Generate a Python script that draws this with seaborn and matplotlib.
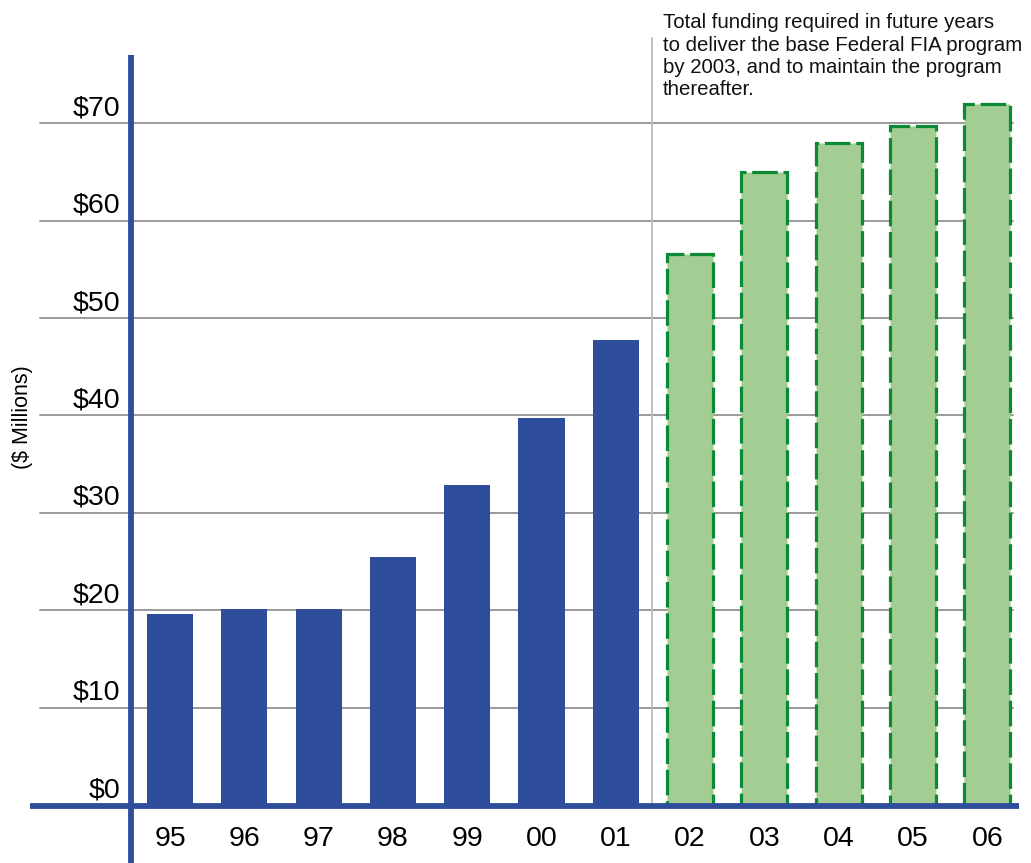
import matplotlib
matplotlib.use("Agg")
import matplotlib.pyplot as plt
import seaborn as sns
import pandas as pd

# Federal FIA program funding, $ millions
years = ["95", "96", "97", "98", "99", "00", "01", "02", "03", "04", "05", "06"]
actual = [19.6, 20.1, 20.1, 25.5, 32.9, 39.7, 47.7]
required = [56.6, 65.0, 68.0, 69.7, 72.0]
y_ticks = [0, 10, 20, 30, 40, 50, 60, 70]
note = ("Total funding required in future years\n"
        "to deliver the base Federal FIA program\n"
        "by 2003, and to maintain the program\n"
        "thereafter.")

sns.set_theme(style="white")
plt.rcParams["font.family"] = ["Liberation Sans", "DejaVu Sans"]

BLUE = "#2E4D9B"
GREEN_FILL = "#A3CD93"
GREEN_EDGE = "#0B8A34"
GRID = "#9A9A9A"

df_actual = pd.DataFrame({"year": years[:len(actual)], "funding": actual})
df_req = pd.DataFrame({"year": years[len(actual):], "funding": required})

fig = plt.figure(figsize=(10.31, 8.63), dpi=100)
ax = fig.add_axes([0, 0, 1, 1])

sns.barplot(data=df_actual, x="year", y="funding", order=years, color=BLUE,
            width=0.62, saturation=1, ax=ax, zorder=3)
n_before = len(ax.patches)
sns.barplot(data=df_req, x="year", y="funding", order=years, color=GREEN_FILL,
            width=0.62, saturation=1, ax=ax, zorder=3)
for p in ax.patches:
    p.set_linewidth(0)
for p in ax.patches[n_before:]:
    p.set_edgecolor(GREEN_EDGE)
    p.set_linewidth(2.3)
    p.set_linestyle((0, (8, 1.8)))

# map data space onto the full canvas
ax.set_xlim(-2.288, 11.588)
ax.set_ylim(-5.95, 82.65)
ax.axis("off")

# gridlines and value labels
for t in y_ticks[1:]:
    ax.plot([-1.75, 11.35], [t, t], color=GRID, lw=1.4, zorder=1)
for t in y_ticks:
    ax.text(-0.67, t + 0.2, f"${t}", ha="right", va="bottom", fontsize=20.5,
            color="black")

# axis lines
ax.plot([-1.88, 11.42], [-0.1, -0.1], color=BLUE, lw=4.2, zorder=4,
        solid_capstyle="butt")
ax.plot([-0.52, -0.52], [-6.5, 77.0], color=BLUE, lw=4.2, zorder=4,
        solid_capstyle="butt")

# year labels
for i, y in enumerate(years):
    ax.text(i, -3.45, y, ha="center", va="center", fontsize=20.5, color="black")

# divider between actual and required funding
ax.plot([6.485, 6.485], [0, 78.8], color="#BBBBBB", lw=1.3, zorder=2)
ax.text(6.635, 81.3, note, ha="left", va="top", fontsize=14.7, color="#111111",
        linespacing=1.23)

ax.text(0.022, 0.517, "($ Millions)", rotation=90, ha="center", va="center",
        fontsize=15.5, transform=ax.transAxes, color="black")

fig.savefig("out.png", dpi=100)
